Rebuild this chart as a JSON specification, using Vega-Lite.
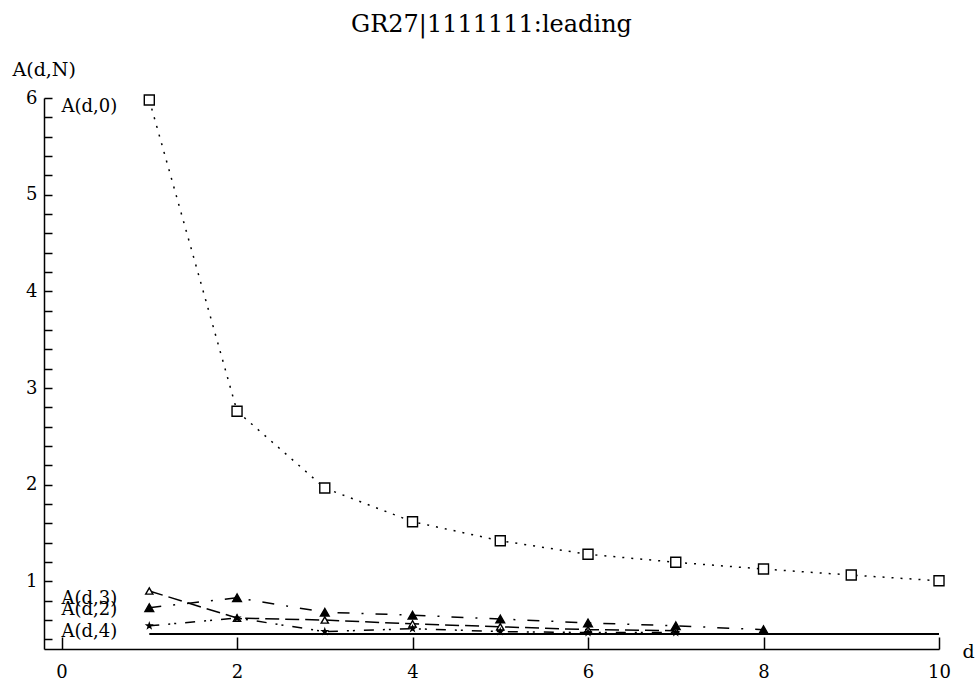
{
  "$schema": "https://vega.github.io/schema/vega-lite/v6.json",
  "width": 895,
  "height": 551,
  "autosize": {"type": "none"},
  "padding": {"left": 44, "top": 98, "right": 36, "bottom": 34},
  "background": "white",
  "config": {"view": {"stroke": null}, "font": "DejaVu Serif"},
  "title": {
    "text": "GR27|1111111:leading",
    "font": "DejaVu Serif",
    "fontSize": 24,
    "fontWeight": "normal",
    "color": "black",
    "anchor": "middle",
    "frame": "group",
    "offset": 4,
    "baseline": "alphabetic"
  },
  "datasets": {
    "curves": [
      {"series": "A(d,0)", "d": 1, "A": 5.98},
      {"series": "A(d,0)", "d": 2, "A": 2.76},
      {"series": "A(d,0)", "d": 3, "A": 1.965},
      {"series": "A(d,0)", "d": 4, "A": 1.617},
      {"series": "A(d,0)", "d": 5, "A": 1.42},
      {"series": "A(d,0)", "d": 6, "A": 1.28},
      {"series": "A(d,0)", "d": 7, "A": 1.197},
      {"series": "A(d,0)", "d": 8, "A": 1.127},
      {"series": "A(d,0)", "d": 9, "A": 1.065},
      {"series": "A(d,0)", "d": 10, "A": 1.006},
      {"series": "A(d,2)", "d": 1, "A": 0.727},
      {"series": "A(d,2)", "d": 2, "A": 0.83},
      {"series": "A(d,2)", "d": 3, "A": 0.68},
      {"series": "A(d,2)", "d": 4, "A": 0.65},
      {"series": "A(d,2)", "d": 5, "A": 0.61},
      {"series": "A(d,2)", "d": 6, "A": 0.57},
      {"series": "A(d,2)", "d": 7, "A": 0.54},
      {"series": "A(d,2)", "d": 8, "A": 0.50},
      {"series": "A(d,3)", "d": 1, "A": 0.90},
      {"series": "A(d,3)", "d": 2, "A": 0.62},
      {"series": "A(d,3)", "d": 3, "A": 0.60},
      {"series": "A(d,3)", "d": 4, "A": 0.56},
      {"series": "A(d,3)", "d": 5, "A": 0.53},
      {"series": "A(d,3)", "d": 6, "A": 0.50},
      {"series": "A(d,3)", "d": 7, "A": 0.49},
      {"series": "A(d,4)", "d": 1, "A": 0.54},
      {"series": "A(d,4)", "d": 2, "A": 0.62},
      {"series": "A(d,4)", "d": 3, "A": 0.48},
      {"series": "A(d,4)", "d": 4, "A": 0.51},
      {"series": "A(d,4)", "d": 5, "A": 0.48},
      {"series": "A(d,4)", "d": 6, "A": 0.47},
      {"series": "A(d,4)", "d": 7, "A": 0.47}
    ],
    "limit": [
      {"d": 1, "A": 0.455},
      {"d": 10, "A": 0.455}
    ],
    "labels": [
      {"d": 0, "A": 5.91, "label": "A(d,0)"},
      {"d": 0, "A": 0.82, "label": "A(d,3)"},
      {"d": 0, "A": 0.70, "label": "A(d,2)"},
      {"d": 0, "A": 0.48, "label": "A(d,4)"}
    ]
  },
  "encoding": {
    "x": {
      "field": "d",
      "type": "quantitative",
      "scale": {"domain": [-0.2, 10], "nice": false, "zero": false},
      "axis": {
        "title": "d",
        "values": [0, 2, 4, 6, 8, 10],
        "grid": false,
        "tickSize": -12,
        "tickColor": "black",
        "tickWidth": 1.5,
        "domainColor": "black",
        "domainWidth": 1.5,
        "labelFont": "DejaVu Serif",
        "labelFontSize": 18,
        "labelColor": "black",
        "labelPadding": 26,
        "labelFlush": false,
        "labelOverlap": false,
        "titleFont": "DejaVu Serif",
        "titleFontSize": 19,
        "titleFontWeight": "normal",
        "titleColor": "black",
        "titleX": 918,
        "titleY": 8,
        "titleAlign": "left",
        "titleBaseline": "alphabetic"
      }
    },
    "y": {
      "field": "A",
      "type": "quantitative",
      "scale": {"domain": [0.3, 6], "nice": false, "zero": false},
      "axis": {
        "title": "A(d,N)",
        "values": [0.4, 0.6, 0.8, 1, 1.2, 1.4, 1.6, 1.8, 2, 2.2, 2.4, 2.6, 2.8, 3, 3.2, 3.4, 3.6, 3.8, 4, 4.2, 4.4, 4.6, 4.8, 5, 5.2, 5.4, 5.6, 5.8, 6],
        "labelExpr": "abs(datum.value - round(datum.value)) < 0.001 ? format(datum.value, 'd') : ''",
        "grid": false,
        "tickSize": -8,
        "tickColor": "black",
        "tickWidth": 1.5,
        "domainColor": "black",
        "domainWidth": 1.5,
        "labelFont": "DejaVu Serif",
        "labelFontSize": 18,
        "labelColor": "black",
        "labelPadding": 15,
        "labelFlush": false,
        "labelOverlap": false,
        "titleFont": "DejaVu Serif",
        "titleFontSize": 19,
        "titleFontWeight": "normal",
        "titleColor": "black",
        "titleAngle": 0,
        "titleX": -32,
        "titleY": -23,
        "titleAlign": "left",
        "titleBaseline": "alphabetic"
      }
    }
  },
  "layer": [
    {
      "data": {"name": "limit"},
      "mark": {"type": "line", "color": "black", "strokeWidth": 2},
      "encoding": {}
    },
    {
      "data": {"name": "curves"},
      "mark": {"type": "line", "color": "black", "strokeWidth": 1.5},
      "encoding": {
        "strokeDash": {
          "field": "series",
          "type": "nominal",
          "scale": {
            "domain": ["A(d,0)", "A(d,2)", "A(d,3)", "A(d,4)"],
            "range": [[2, 7], [12, 12, 2, 12], [14, 6], [10, 9, 2, 4, 2, 9]]
          },
          "legend": null
        }
      }
    },
    {
      "data": {"name": "curves"},
      "mark": {"type": "point", "filled": true, "stroke": "black", "strokeWidth": 1.4, "opacity": 1},
      "encoding": {
        "shape": {
          "field": "series",
          "type": "nominal",
          "scale": {
            "domain": ["A(d,0)", "A(d,2)", "A(d,3)", "A(d,4)"],
            "range": ["square", "triangle-up", "triangle-up", "M0,-1L0.235,-0.324L0.951,-0.309L0.38,0.124L0.588,0.809L0,0.4L-0.588,0.809L-0.38,0.124L-0.951,-0.309L-0.235,-0.324Z"]
          },
          "legend": null
        },
        "fill": {
          "field": "series",
          "type": "nominal",
          "scale": {
            "domain": ["A(d,0)", "A(d,2)", "A(d,3)", "A(d,4)"],
            "range": ["white", "black", "white", "black"]
          },
          "legend": null
        },
        "size": {
          "field": "series",
          "type": "nominal",
          "scale": {
            "domain": ["A(d,0)", "A(d,2)", "A(d,3)", "A(d,4)"],
            "range": [100, 28, 30, 60]
          },
          "legend": null
        }
      }
    },
    {
      "data": {"name": "labels"},
      "mark": {"type": "text", "align": "left", "baseline": "middle", "font": "DejaVu Serif", "fontSize": 18, "color": "black"},
      "encoding": {
        "text": {"field": "label", "type": "nominal"}
      }
    }
  ]
}
